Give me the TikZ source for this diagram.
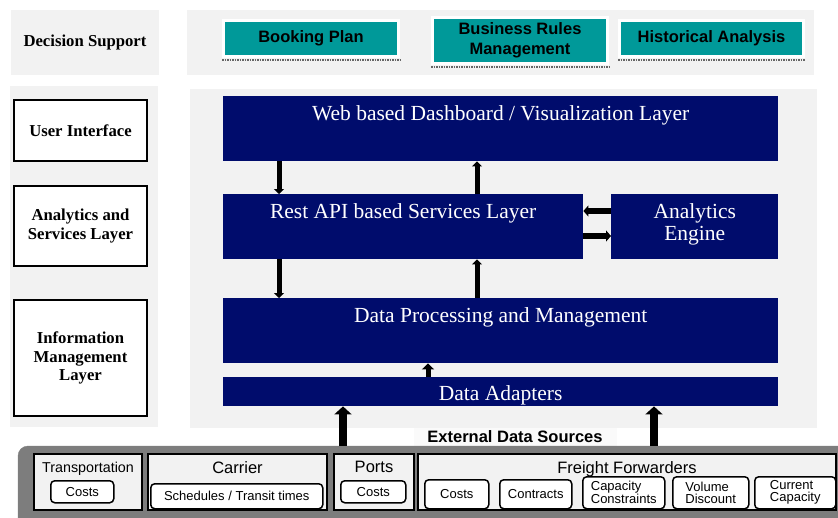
\documentclass[tikz,border=0pt]{standalone}
\usepackage{fontspec}
\setmainfont{Liberation Serif}
\setsansfont{Liberation Sans}
\usetikzlibrary{positioning}
\usetikzlibrary{arrows.meta}

\definecolor{panelgray}{RGB}{242,242,242}
\definecolor{layerblue}{RGB}{0,12,108}
\definecolor{dsteal}{RGB}{0,153,153}
\definecolor{srcgray}{RGB}{125,125,125}

\newcommand\lyrfont{\fontsize{21.5}{22}\selectfont}
\newcommand\sidefont{\bfseries\fontsize{16.7}{18.5}\selectfont}
\newcommand\dsfont{\sffamily\bfseries\fontsize{16.5}{20}\selectfont}
\newcommand\srcfont{\sffamily\fontsize{16.5}{18}\selectfont}
\newcommand\itemfont{\sffamily\fontsize{13}{12}\selectfont}

\begin{document}
\begin{tikzpicture}[x=1pt,y=-1pt,
  sidebox/.style={draw=black,line width=2pt,fill=white,anchor=north west,inner sep=0pt,align=center,font=\sidefont},
  layer/.style={fill=layerblue,anchor=north west,inner sep=0pt,text=white,font=\lyrfont,align=center},
  toptext/.style={anchor=north,inner sep=0pt,yshift=-9pt,text=white,font=\lyrfont,align=center},
  dsbox/.style={fill=dsteal,draw=white,line width=3pt,anchor=north west,inner sep=0pt,align=center,font=\dsfont},
  dsshadow/.style={black!60,densely dotted,line width=1.5pt},
  cell/.style={fill=panelgray,draw=black,line width=2pt,anchor=north west,inner sep=0pt},
  celltitle/.style={anchor=north,inner sep=0pt,yshift=-8pt,font=\srcfont},
  item/.style={fill=white,draw=black,line width=1.5pt,rounded corners=4pt,anchor=north west,inner sep=0pt,align=left,font=\itemfont},
  flow/.style={line width=5pt,-{Triangle[width=10pt,length=5pt]}},
  feed/.style={line width=8pt,-{Triangle[width=17pt,length=8pt]}}]
\useasboundingbox (0,0) rectangle (838,517);
\clip (0,0) rectangle (838,517);

% decision support row
\fill[panelgray] (11,10) rectangle (159,75);
\fill[panelgray] (187,10) rectangle (814,75);
\node[font=\sidefont] (dslbl) at (85,42) {Decision Support};
\node[dsbox,minimum width=175pt,minimum height=36pt] (book) at (222,19) {Booking Plan};
\node[dsbox,minimum width=175pt,minimum height=46pt] (rules) at (431,16) {Business Rules\\Management};
\node[dsbox,minimum width=184pt,minimum height=36pt] (hist) at (618,19) {Historical Analysis};
\draw[dsshadow] ([yshift=-2pt]book.south west) -- ([yshift=-2pt]book.south east);
\draw[dsshadow] ([yshift=-2pt]rules.south west) -- ([yshift=-2pt]rules.south east);
\draw[dsshadow] ([yshift=-2pt]hist.south west) -- ([yshift=-2pt]hist.south east);

% layer names
\fill[panelgray] (10,86) rectangle (158,427);
\node[sidebox,minimum width=133pt,minimum height=61pt] (ui) at (13,99) {User Interface};
\node[sidebox,minimum width=133pt,minimum height=80pt] (asl) at (13,185) {Analytics and\\Services Layer};
\node[sidebox,minimum width=133pt,minimum height=116pt] (iml) at (13,299) {Information\\Management\\Layer};

% platform layers
\fill[panelgray] (190,89) rectangle (817,428);
\node[layer,minimum width=555pt,minimum height=65pt,
  label={[toptext]north:Web based Dashboard / Visualization Layer}] (web) at (223,96) {};
\node[layer,minimum width=360pt,minimum height=65pt,
  label={[toptext]north:Rest API based Services Layer}] (rest) at (223,194) {};
\node[layer,minimum width=167pt,minimum height=65pt,
  label={[toptext]north:Analytics\\Engine}] (engine) at (611,194) {};
\node[layer,minimum width=555pt,minimum height=65pt,
  label={[toptext]north:Data Processing and Management}] (dpm) at (223,298) {};
\node[layer,minimum width=555pt,minimum height=29pt,
  label={[toptext,yshift=1pt]north:Data Adapters}] (adapt) at (223,377) {};

\draw[flow] ([xshift=56pt]web.south west) -- ([xshift=56pt]rest.north west);
\draw[flow] ([xshift=254pt]rest.north west) -- ([xshift=254pt]web.south west);
\draw[flow] ([xshift=56pt]rest.south west) -- ([xshift=56pt]dpm.north west);
\draw[flow] ([xshift=254pt]dpm.north west) -- ([xshift=254pt]rest.south west);
\draw[flow,line width=6pt,-{Triangle[width=11pt,length=5pt]}] ([yshift=-17pt]engine.north west) -- ([yshift=-17pt]rest.north east);
\draw[flow,line width=6pt,-{Triangle[width=11pt,length=5pt]}] ([yshift=-42pt]rest.north east) -- ([yshift=-42pt]engine.north west);
\draw[flow,-{Triangle[width=12pt,length=6pt]}] ([xshift=205pt]adapt.north west) -- ([xshift=205pt]dpm.south west);

% external data sources
\node[font=\sffamily\bfseries\fontsize{16.5}{18}\selectfont,fill=gray!4,inner sep=0pt,
  minimum width=203pt,minimum height=18pt] (extlbl) at (515,437) {External Data Sources};
\draw[fill=srcgray,draw=srcgray,rounded corners=10pt] (18,446) rectangle (870,540);

\node[cell,minimum width=108pt,minimum height=56pt,
  label={[celltitle,font=\sffamily\fontsize{14.3}{16}\selectfont,yshift=-1pt]north:Transportation}] (trans) at (33,453) {};
\node[cell,minimum width=179pt,minimum height=56pt,
  label={[celltitle]north:Carrier}] (carrier) at (147,453) {};
\node[cell,minimum width=80pt,minimum height=56pt,
  label={[celltitle]north:Ports}] (ports) at (333,453) {};
\node[cell,minimum width=418pt,minimum height=56pt,
  label={[celltitle]north:Freight Forwarders}] (freight) at (417,453) {};

\node[item,minimum width=63pt,minimum height=22pt,align=center] (tcost) at (50,480) {Costs};
\node[item,minimum width=172pt,minimum height=25pt,align=center] (sched) at (150,483) {Schedules / Transit times};
\node[item,minimum width=65pt,minimum height=22pt,align=center] (pcost) at (340,480) {Costs};
\node[item,minimum width=64pt,minimum height=29pt,align=center] (fcost) at (424,479) {Costs};
\node[item,minimum width=72pt,minimum height=29pt,align=center] (contr) at (499,479) {Contracts};
\node[item,minimum width=82pt,minimum height=32pt] (capc) at (582,476) {Capacity\\Constraints};
\node[item,minimum width=76pt,minimum height=32pt] (vold) at (672,476) {Volume\\Discount};
\node[item,minimum width=81pt,minimum height=32pt] (curc) at (754,476) {Current\\Capacity};

\coordinate (inL) at (343,446);
\coordinate (inR) at (654,446);
\draw[feed] (inL) -- (inL |- adapt.south);
\draw[feed] (inR) -- (inR |- adapt.south);

\end{tikzpicture}
\end{document}
